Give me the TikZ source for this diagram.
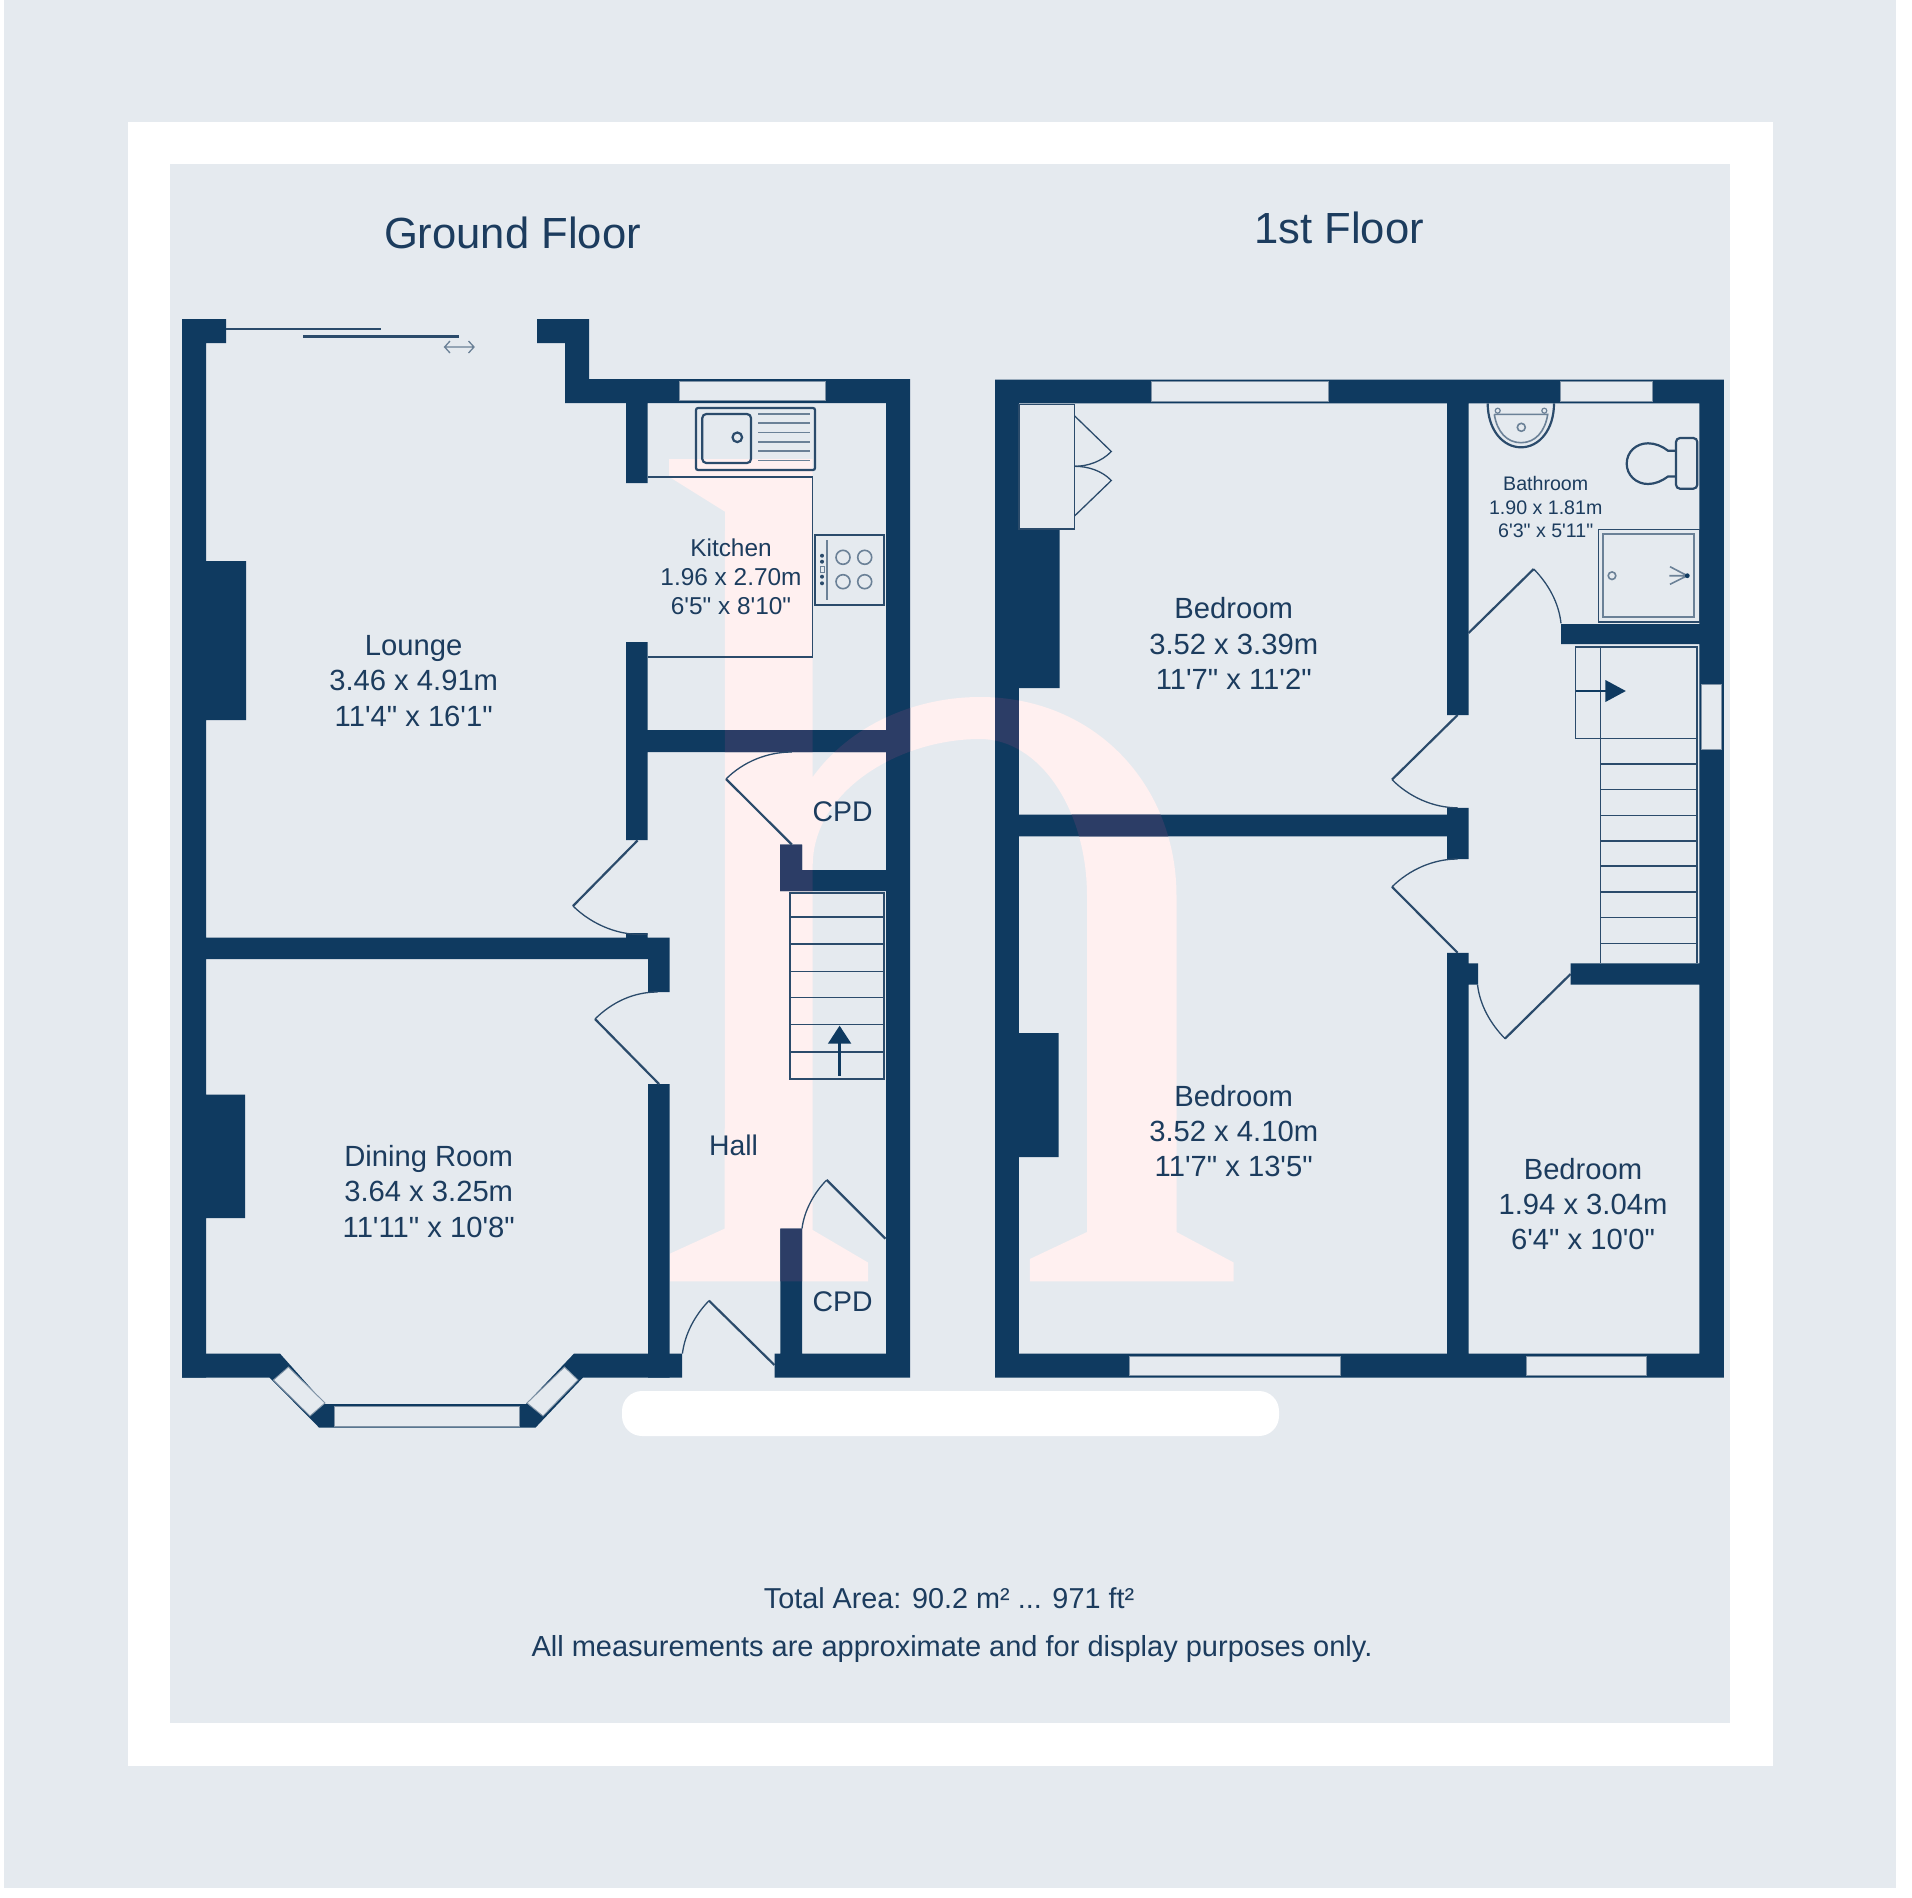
\documentclass[tikz,border=0pt]{standalone}
\usepackage{fontspec}
\newfontfamily\planfont{Liberation Sans}
\definecolor{bgcol}{HTML}{E5EAEF}
\definecolor{wallcol}{HTML}{0F3A60}
\definecolor{walltint}{HTML}{2C3D66}
\definecolor{pinkcol}{HTML}{FFF0F0}
\definecolor{linecol}{HTML}{2B4B6B}
\definecolor{txtcol}{HTML}{1C3C5E}
\tikzset{
  lbl/.style={text=txtcol,align=center,inner sep=0pt,font=\planfont\fontsize{#1}{#1}\selectfont},
  room/.style={text=txtcol,align=center,inner sep=0pt,font=\planfont\fontsize{29.2}{35.2}\selectfont},
  kroom/.style={text=txtcol,align=center,inner sep=0pt,font=\planfont\fontsize{24.4}{29}\selectfont},
  broom/.style={text=txtcol,align=center,inner sep=0pt,font=\planfont\fontsize{19.6}{23.5}\selectfont},
  leaf/.style={draw=linecol,line width=2.2pt},
  swing/.style={draw=linecol,line width=1.3pt},
  thin line/.style={draw=linecol,line width=1.4pt},
  fixture/.style={draw=linecol,line width=2.2pt},
  soft/.style={draw=linecol!70,line width=1.6pt},
  glass/.style={fill=bgcol,draw=linecol!60,line width=0.9pt},
}
\newcommand{\planwalls}[1]{%
\fill[#1]
 (182,319) rectangle (206,1377.5)
 (182,319) rectangle (226,343)
 (537,319) rectangle (589,343)
 (565,319) rectangle (589,403)
 (565,379) rectangle (910,403)
 (886,379) rectangle (910,1377.5)
 (626,403) rectangle (647.5,483)
 (626,642) rectangle (647.5,840)
 (626,730) rectangle (886,752)
 (780,844.5) rectangle (802,891)
 (780,870) rectangle (886,891)
 (206,561) rectangle (246,720)
 (206,937.5) rectangle (669.5,959)
 (626,933) rectangle (647.5,938)
 (648,937.5) rectangle (669.5,992)
 (648,1084) rectangle (669.5,1377.5)
 (206,1094.6) rectangle (245,1218)
 (774.5,1353.6) rectangle (910,1377.5)
 (780.4,1228.6) rectangle (802,1353.6)
 (995,379.6) rectangle (1723.8,403.3)
 (995,379.6) rectangle (1018.8,1377.5)
 (1699.4,379.6) rectangle (1723.8,1377.5)
 (995,1353.6) rectangle (1723.8,1377.5)
 (1447,403) rectangle (1468.6,715)
 (1018.8,814.5) rectangle (1447,836.4)
 (1447,807.8) rectangle (1468.6,859)
 (1447,952.8) rectangle (1468.6,1353.6)
 (1468,963.3) rectangle (1478,984.6)
 (1570.6,963.3) rectangle (1699.4,984.6)
 (1561,624) rectangle (1699.4,644)
 (1018.8,528.8) rectangle (1059.6,688)
 (1018.8,1033) rectangle (1058.6,1157);
\fill[#1]
 (182,1353.6) -- (280,1353.6) -- (325,1404) -- (526,1404) -- (574,1353.6) -- (682,1353.6) -- (682,1377.5) -- (583,1377.5) -- (535.6,1427.5) -- (319,1427.5) -- (269.5,1377.5) -- (182,1377.5) -- cycle;}
\newcommand{\markpath}{(669,459) -- (812.7,459) -- (812.7,777)
 .. controls (850,725) and (915,697) .. (980,697)
 .. controls (1095,697) and (1176.5,785) .. (1176.5,896)
 -- (1176.5,1232) -- (1233.7,1262.5) -- (1233.7,1281.4) -- (1029.8,1281.4) -- (1029.8,1259) -- (1087,1232) -- (1087,896)
 .. controls (1087,810) and (1040,739) .. (980,739)
 .. controls (900,739) and (812.7,790) .. (812.7,866)
 -- (812.7,1230) -- (868,1262.5) -- (868,1281.4) -- (670,1281.4) -- (670,1253.6) -- (724.7,1228.6) -- (725,511.7) -- (669,476.7) -- cycle}
\begin{document}
\begin{tikzpicture}[x=1pt,y=-1pt]
\useasboundingbox (0,0) rectangle (1912,1898);
% paper
\fill[white] (0,0) rectangle (1912,1898);
\fill[bgcol] (3.5,0) rectangle (1896,1888);
\fill[white] (128,122) rectangle (1772.7,1766);
\fill[bgcol] (170,164) rectangle (1730,1722.7);
\fill[pinkcol] \markpath;
\fill[white,rounded corners=20pt] (622,1391) rectangle (1279,1436);
% walls
\planwalls{wallcol}
\begin{scope}
 \clip \markpath;
 \planwalls{walltint}
\end{scope}
% windows
\fill[glass] (679,381) rectangle (825,400.5);
\fill[glass] (334,1406) rectangle (519,1426);
\fill[glass] (273.4,1380) -- (288.4,1367) -- (325,1403) -- (310,1416) -- cycle;
\fill[glass] (564.5,1367) -- (578,1380) -- (543,1416) -- (527,1403) -- cycle;
\fill[glass] (1151.6,381.4) rectangle (1328,401);
\fill[glass] (1560,381.7) rectangle (1652.7,401);
\fill[glass] (1701.4,684.5) rectangle (1721.8,749.7);
\fill[glass] (1129,1356) rectangle (1340,1375.7);
\fill[glass] (1526.8,1356) rectangle (1646,1375.7);
% sliding door
\draw[draw=linecol,line width=2.4pt] (226,329) -- (381,329);
\draw[draw=linecol,line width=2.4pt] (303,336.4) -- (458.5,336.4);
\draw[draw=linecol!70,line width=1.3pt] (450,341) -- (444.6,347) -- (450,353) (444.6,347) -- (474,347) (468.5,341) -- (474,347) -- (468.5,353);
% doors
\draw[leaf] (637.6,840.4) -- (573,906);
\draw[swing] (573,906) .. controls (592.3,925) and (620.7,936.8) .. (647.5,934);
\draw[swing] (657.5,992) .. controls (633.5,992) and (612.1,1002.1) .. (595,1019);
\draw[leaf] (595,1019) -- (659,1084);
\draw[swing] (682.4,1353.6) .. controls (684.9,1333.8) and (695,1315) .. (709,1300.7);
\draw[leaf] (709,1300.7) -- (774.4,1365);
\draw[swing] (802,1228.6) .. controls (804.2,1210.7) and (814,1192.7) .. (826.7,1180);
\draw[leaf] (826.7,1180) -- (885.4,1238.6);
\draw[swing] (791.8,752) .. controls (767.3,752) and (743.3,761.7) .. (726,779);
\draw[leaf] (726,779) -- (791.8,844.5);
\draw[leaf] (1468.6,633) -- (1533.7,569);
\draw[swing] (1533.7,569) .. controls (1548.3,583.9) and (1558.8,602.6) .. (1561,623.4);
\draw[leaf] (1457.6,715) -- (1392,779.6);
\draw[swing] (1392,779.6) .. controls (1409.1,796.9) and (1433.2,807.8) .. (1457.6,807.8);
\draw[swing] (1457.6,859) .. controls (1433,859) and (1409.4,869.7) .. (1392,886.8);
\draw[leaf] (1392,886.8) -- (1457.6,952.8);
\draw[swing] (1477.5,984.6) .. controls (1479.8,1005.1) and (1490.6,1024) .. (1505,1038.6);
\draw[leaf] (1505,1038.6) -- (1570.6,974);
% kitchen
\draw[thin line] (647.5,477) -- (812.5,477) -- (812.5,657) -- (647.5,657);
\draw[fixture,rounded corners=2pt] (696,408) rectangle (815,470);
\draw[fixture,rounded corners=4pt] (702.3,414) rectangle (751,463);
\draw[fixture] (737.3,437.3) circle (4.8);
\foreach \yy in {413.7,423,432.3,441.7,451,460.3} \draw[soft] (758.3,\yy) -- (810,\yy);
\draw[fixture] (814.7,535) rectangle (884.3,604.7);
\draw[soft] (826.7,540) -- (826.7,600);
\fill[linecol] (822,555.7) circle (2) (822,561.7) circle (2) (822,576.7) circle (2) (822,583.3) circle (2);
\draw[soft,line width=0.8pt] (820,566.5) rectangle (824,572);
\foreach \cx/\cy in {843/557.3,864.7/557.3,843/581.7,864.7/581.7} \draw[soft] (\cx,\cy) circle (7);
% ground floor stairs
\draw[thin line] (790,893) rectangle (884,1079);
\foreach \yy in {917,944,971.4,997.5,1024.6,1052} \draw[thin line] (790,\yy) -- (884,\yy);
\draw[draw=wallcol,line width=2.6pt] (839.6,1075.7) -- (839.6,1040);
\fill[wallcol] (839.6,1025.7) -- (851.3,1043.6) -- (827.9,1043.6) -- cycle;
% first floor stairs
\draw[thin line] (1575.5,647) rectangle (1697,738.6);
\draw[thin line] (1600.4,647) -- (1600.4,963);
\draw[thin line] (1697,738.6) -- (1697,963);
\foreach \yy in {764,789.5,815.4,840.8,866,892,917.6,943.5} \draw[thin line] (1600.4,\yy) -- (1697,\yy);
\draw[draw=wallcol,line width=2.6pt] (1575.5,691) -- (1608,691);
\fill[wallcol] (1625.8,691) -- (1605.4,680) -- (1605.4,702) -- cycle;
% wardrobe
\draw[thin line,fill=bgcol] (1018.8,404.6) rectangle (1074.5,528.8);
\draw[swing] (1074.5,415.8) -- (1111.3,451.5) .. controls (1101.8,461.4) and (1088,466.3) .. (1074.5,466.3);
\draw[swing] (1074.5,516) -- (1111.3,480.5) .. controls (1101.8,470.6) and (1088,466.3) .. (1074.5,466.3);
% basin
\draw[fixture] (1487.7,403.3) .. controls (1487.7,430) and (1503,447.3) .. (1521,447.3) .. controls (1539,447.3) and (1554,430) .. (1554,403.3);
\draw[soft] (1494.3,414.3) -- (1547.7,414.3) .. controls (1545,432) and (1535,442.7) .. (1521,442.7) .. controls (1507,442.7) and (1497,432) .. (1494.3,414.3);
\draw[soft,line width=1.2pt] (1497.7,410.7) circle (2.5) (1544.3,410.7) circle (2.5);
\draw[soft] (1521.3,427.3) circle (4);
% wc
\draw[fixture,rounded corners=4pt] (1676,438) rectangle (1697.3,488.7);
\draw[fixture] (1676,450.7) -- (1668,450.7) .. controls (1662,446) and (1655,443.3) .. (1648,443.3) .. controls (1636,443.3) and (1626.7,452) .. (1626.7,463.7) .. controls (1626.7,475) and (1636,484) .. (1648,484) .. controls (1655,484) and (1662,481) .. (1668,476.5) -- (1676,476.5);
% shower
\draw[thin line] (1598.7,529.3) rectangle (1699.3,622);
\draw[draw=linecol!70,line width=2pt] (1603.3,533.7) rectangle (1694,617.3);
\draw[soft] (1612,575.7) circle (3.8);
\draw[soft] (1669.3,575.7) -- (1687.3,575.7) (1670,566.7) -- (1687.3,575.7) -- (1670,584.3);
\fill[wallcol] (1687.3,575.7) circle (2.4);
% text
\node[lbl=43.6] (gf) at (512.5,233) {Ground Floor};
\node[lbl=43.6] (ff) at (1339,228) {1st Floor};
\node[room] (lounge) at (413.7,681) {Lounge\\3.46 x 4.91m\\11'4" x 16'1"};
\node[kroom] (kitchen) at (731,577) {Kitchen\\1.96 x 2.70m\\6'5" x 8'10"};
\node[room] (dining) at (428.7,1191.5) {Dining Room\\3.64 x 3.25m\\11'11" x 10'8"};
\node[lbl=28.4] (hall) at (733.6,1145.6) {Hall};
\node[lbl=28.4] (cpda) at (842.6,812) {CPD};
\node[lbl=28.4] (cpdb) at (842.6,1301.7) {CPD};
\node[room] (bed1) at (1233.7,643.6) {Bedroom\\3.52 x 3.39m\\11'7" x 11'2"};
\node[room] (bed2) at (1233.7,1131) {Bedroom\\3.52 x 4.10m\\11'7" x 13'5"};
\node[room] (bed3) at (1583,1204) {Bedroom\\1.94 x 3.04m\\6'4" x 10'0"};
\node[broom] (bath) at (1545.7,507.2) {Bathroom\\1.90 x 1.81m\\6'3" x 5'11"};
\node[lbl=28.8] (area) at (949,1598) {Total Area: 90.2 m² ... 971 ft²};
\node[lbl=29] (note) at (952,1649) {All measurements are approximate and for display purposes only.};
\end{tikzpicture}
\end{document}
